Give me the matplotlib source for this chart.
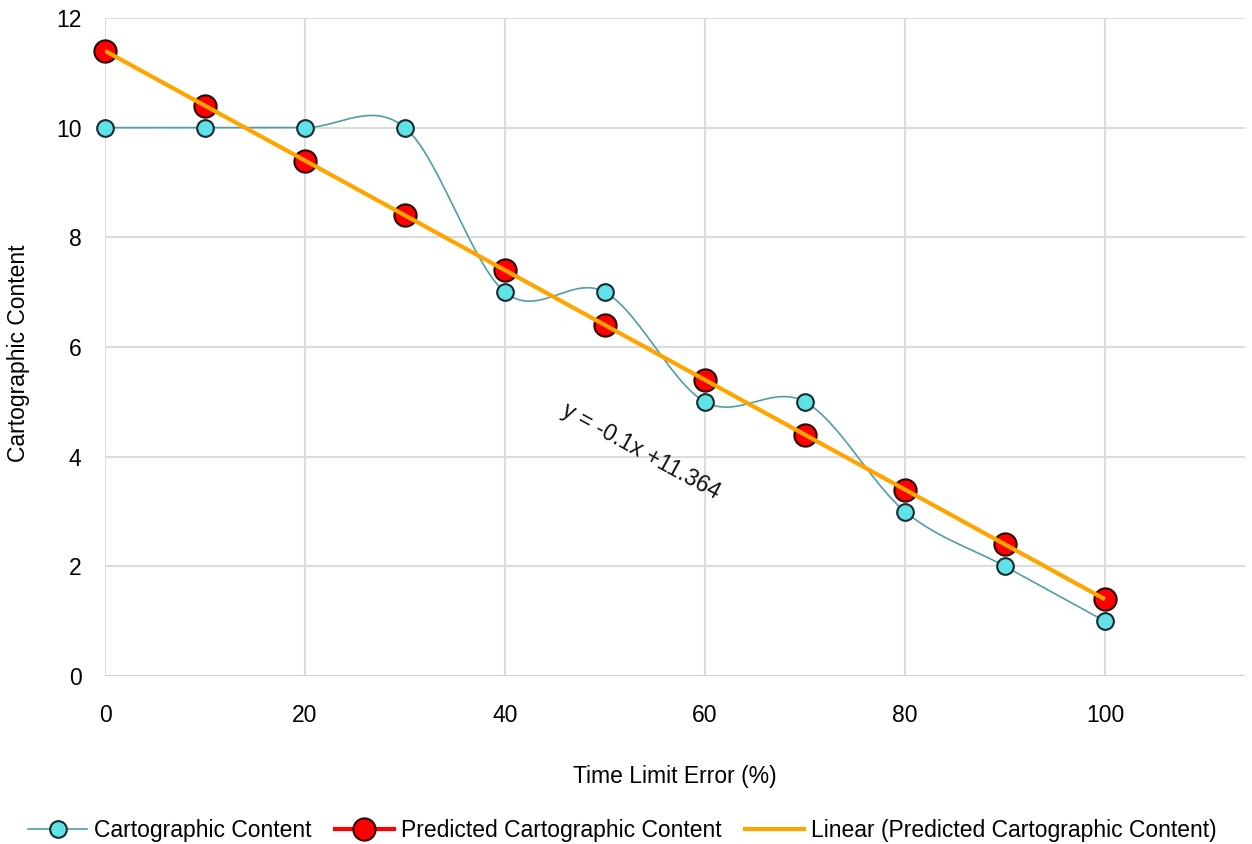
import matplotlib
matplotlib.use("Agg")
import matplotlib.pyplot as plt
import numpy as np

plt.rcParams['font.family'] = ['Liberation Sans', 'DejaVu Sans']

# data
time_error = [0, 10, 20, 30, 40, 50, 60, 70, 80, 90, 100]
carto_content = [10, 10, 10, 10, 7, 7, 5, 5, 3, 2, 1]
predicted_content = [11.4, 10.4, 9.4, 8.4, 7.4, 6.4, 5.4, 4.4, 3.4, 2.4, 1.4]
x_ticks = [0, 20, 40, 60, 80, 100]
y_ticks = [0, 2, 4, 6, 8, 10, 12]


def smooth_curve(xs, ys, n=30):
    """Excel style smoothed line: cubic bezier, control points at 1/6 of neighbour diff."""
    pts = np.column_stack([xs, ys]).astype(float)
    out = []
    for i in range(len(pts) - 1):
        p0 = pts[max(i - 1, 0)]
        p1 = pts[i]
        p2 = pts[i + 1]
        p3 = pts[min(i + 2, len(pts) - 1)]
        c1 = p1 + (p2 - p0) / 6
        c2 = p2 - (p3 - p1) / 6
        t = np.linspace(0, 1, n)[:, None]
        seg = ((1 - t) ** 3) * p1 + 3 * ((1 - t) ** 2) * t * c1 + 3 * (1 - t) * t ** 2 * c2 + t ** 3 * p2
        out.append(seg if i == 0 else seg[1:])
    out = np.vstack(out)
    return out[:, 0], out[:, 1]


fs = 16.5

fig = plt.figure(figsize=(12.52, 8.44), dpi=100)
ax = fig.add_axes([0.0839, 0.199, 0.9105, 0.7797])

sx, sy = smooth_curve(time_error, carto_content)
ax.plot(sx, sy, color='#4f9ea6', linewidth=1.2, zorder=3)
ax.plot(time_error, carto_content, linestyle='none', marker='o', markersize=12,
        markerfacecolor='#5fe3e6', markeredgecolor='#1a2a33', markeredgewidth=1.5,
        zorder=4, clip_on=False)

ax.plot(time_error, predicted_content, color='#ff0000', linewidth=2, zorder=3)
ax.plot(time_error, predicted_content, linestyle='none', marker='o', markersize=16,
        markerfacecolor='#ff0000', markeredgecolor='#2a0a0a', markeredgewidth=1.5,
        zorder=5, clip_on=False)

# linear trend of the predicted series
slope, intercept = np.polyfit(time_error, predicted_content, 1)
fit_x = np.array([time_error[0], time_error[-1]])
ax.plot(fit_x, slope * fit_x + intercept, color='#ffa500', linewidth=3, zorder=6,
        solid_capstyle='butt')

ax.text(53.6, 4.1, "y = -0.1x +11.364", rotation=-28.7, rotation_mode='anchor',
        ha='center', va='center', fontsize=fs, color='#111111')

ax.set_xlim(0, 114)
ax.set_ylim(0, 12)
ax.set_xticks(x_ticks)
ax.set_yticks(y_ticks)
ax.tick_params(length=0, labelsize=fs, pad=20)
ax.tick_params(axis='y', pad=17)
ax.grid(True, color='#dcdcdc', linewidth=1.5)
ax.set_axisbelow(True)
for s in ax.spines.values():
    s.set_visible(False)
ax.axhline(0, color='#d0d0d0', linewidth=2, zorder=1)

ax.set_xlabel("Time Limit Error (%)", fontsize=fs)
ax.set_ylabel("Cartographic Content", fontsize=fs)
ax.xaxis.set_label_coords(0.50, -0.135)
ax.yaxis.set_label_coords(-0.066, 0.49)

handles = [
    plt.Line2D([], [], color='#4f9ea6', linewidth=1.2, marker='o', markersize=12,
               markerfacecolor='#5fe3e6', markeredgecolor='#1a2a33', markeredgewidth=1.5),
    plt.Line2D([], [], color='#ff0000', linewidth=3, marker='o', markersize=16,
               markerfacecolor='#ff0000', markeredgecolor='#2a0a0a', markeredgewidth=1.5),
    plt.Line2D([], [], color='#ffa500', linewidth=3),
]
labels = ["Cartographic Content", "Predicted Cartographic Content",
          "Linear (Predicted Cartographic Content)"]
fig.legend(handles, labels, loc='lower center', bbox_to_anchor=(0.497, -0.022), ncol=3,
           frameon=False, fontsize=fs, handlelength=2.6, handletextpad=0.3,
           columnspacing=1.0)

fig.savefig("out.png", dpi=100)
